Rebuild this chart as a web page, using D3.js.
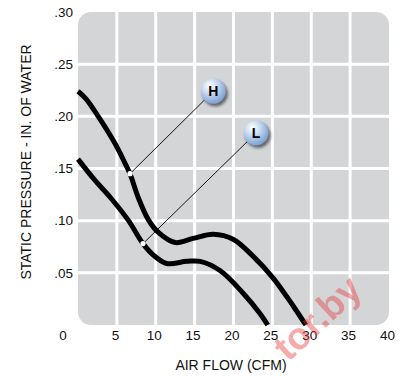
<!DOCTYPE html>
<html>
<head>
<meta charset="utf-8">
<script src="https://cdn.jsdelivr.net/npm/d3@7/dist/d3.min.js"></script>
<style>
  html, body { margin: 0; padding: 0; background: #ffffff; }
  svg { display: block; }
  text { font-family: "Liberation Sans", Arial, Helvetica, sans-serif; }
</style>
</head>
<body>
<svg id="chart" width="404" height="378"></svg>
<script>
// ---- data ----
const xTicks = [5, 10, 15, 20, 25, 30, 35, 40];
const yTicks = [0.05, 0.10, 0.15, 0.20, 0.25, 0.30];
const yTickLabels = [".05", ".10", ".15", ".20", ".25", ".30"];
const originLabel = "0";

const hFlow     = [0, 1.0, 2.6, 4.76, 6.05, 6.69, 7.76, 9.04, 10.3, 12.5, 14.8, 17.4, 20.0, 22.5, 25.1, 27.7, 29.3];
const hPressure = [0.224, 0.217, 0.200, 0.174, 0.155, 0.145, 0.122, 0.101, 0.089, 0.079, 0.083, 0.087, 0.082, 0.066, 0.045, 0.018, 0.0];
const lFlow     = [0, 2.14, 4.3, 6.5, 8.36, 9.7, 11.4, 14.0, 15.7, 18.3, 21.3, 23.4, 24.4];
const lPressure = [0.159, 0.139, 0.121, 0.100, 0.078, 0.067, 0.059, 0.061, 0.061, 0.052, 0.030, 0.011, 0.0];

const curveNames  = ["H", "L"];
const markerFlow     = [6.69, 8.36];
const markerPressure = [0.145, 0.078];
const bubbleFlow     = [17.4, 22.9];
const bubblePressure = [0.224, 0.184];

const xTitle = "AIR FLOW (CFM)";
const yTitle = "STATIC PRESSURE - IN. OF WATER";
const watermark = "tor.by";

// ---- layout ----
const svg = d3.select("#chart");
const L = 78, R = 389, T = 12, B = 325;
const x = d3.scaleLinear().domain([0, 40]).range([L, R]);
const y = d3.scaleLinear().domain([0, 0.30]).range([B, T]);

const defs = svg.append("defs");
const grad = defs.append("radialGradient").attr("id", "bub")
  .attr("cx", "38%").attr("cy", "32%").attr("r", "70%").attr("fx", "35%").attr("fy", "28%");
grad.append("stop").attr("offset", "0%").attr("stop-color", "#ffffff");
grad.append("stop").attr("offset", "35%").attr("stop-color", "#d3e2f4");
grad.append("stop").attr("offset", "80%").attr("stop-color", "#93b3de");
grad.append("stop").attr("offset", "100%").attr("stop-color", "#7d9fd0");
const blur = defs.append("filter").attr("id", "shadow")
  .attr("x", "-50%").attr("y", "-50%").attr("width", "200%").attr("height", "200%");
blur.append("feGaussianBlur").attr("stdDeviation", 1.6);

// plot background
svg.append("rect")
  .attr("x", L).attr("y", T).attr("width", R - L).attr("height", B - T)
  .attr("rx", 13).attr("ry", 13)
  .attr("fill", "#d4d5d7");

// grid
svg.append("g").selectAll("line").data(xTicks.filter(d => d < 40)).join("line")
  .attr("x1", d => x(d)).attr("x2", d => x(d))
  .attr("y1", T).attr("y2", B)
  .attr("stroke", "#ffffff").attr("stroke-width", 3);
svg.append("g").selectAll("line").data(yTicks.filter(d => d < 0.30)).join("line")
  .attr("y1", d => y(d)).attr("y2", d => y(d))
  .attr("x1", L).attr("x2", R)
  .attr("stroke", "#ffffff").attr("stroke-width", 3);

// axes (text only)
const xAxis = d3.axisBottom(x).tickValues(xTicks).tickSize(0).tickPadding(0).tickFormat(d3.format("d"));
const gx = svg.append("g").attr("transform", `translate(-2,${B + 5})`).call(xAxis);
gx.select(".domain").remove();
gx.selectAll("text").attr("font-size", 13.5).attr("fill", "#111").attr("dy", "0.71em")
  .attr("font-family", "Liberation Sans, Arial, sans-serif");

const yAxis = d3.axisLeft(y).tickValues(yTicks).tickSize(0).tickPadding(0)
  .tickFormat((d, i) => yTickLabels[i]);
const gy = svg.append("g").attr("transform", `translate(${L - 5},0)`).call(yAxis);
gy.select(".domain").remove();
gy.selectAll("text").attr("font-size", 13.5).attr("fill", "#111")
  .attr("font-family", "Liberation Sans, Arial, sans-serif");

svg.append("text").attr("x", 63).attr("y", 340).attr("text-anchor", "middle")
  .attr("font-size", 13.5).attr("fill", "#111").text(originLabel);

// titles
svg.append("text").attr("x", 231).attr("y", 370).attr("text-anchor", "middle")
  .attr("font-size", 14).attr("fill", "#111").text(xTitle);
svg.append("text").attr("transform", "translate(31,162) rotate(-90)")
  .attr("text-anchor", "middle").attr("font-size", 14).attr("fill", "#111").text(yTitle);

// curves
const line = d3.line().x(d => x(d[0])).y(d => y(d[1])).curve(d3.curveCatmullRom.alpha(0.5));
const hData = hFlow.map((f, i) => [f, hPressure[i]]);
const lData = lFlow.map((f, i) => [f, lPressure[i]]);
svg.append("g").selectAll("path").data([hData, lData]).join("path")
  .attr("d", line).attr("fill", "none").attr("stroke", "#000")
  .attr("stroke-width", 5).attr("stroke-linecap", "butt");

// leader lines, markers, bubbles
const callouts = curveNames.map((n, i) => ({
  name: n, mx: markerFlow[i], my: markerPressure[i], bx: bubbleFlow[i], by: bubblePressure[i]
}));
const cg = svg.append("g");
cg.selectAll("line").data(callouts).join("line")
  .attr("x1", d => x(d.mx)).attr("y1", d => y(d.my))
  .attr("x2", d => x(d.bx)).attr("y2", d => y(d.by))
  .attr("stroke", "#000").attr("stroke-width", 0.9);
cg.selectAll("circle.m").data(callouts).join("circle").attr("class", "m")
  .attr("cx", d => x(d.mx)).attr("cy", d => y(d.my)).attr("r", 2.6)
  .attr("fill", "#ffffff");
cg.selectAll("circle.s").data(callouts).join("circle").attr("class", "s")
  .attr("cx", d => x(d.bx) + 2).attr("cy", d => y(d.by) + 2.5).attr("r", 12.5)
  .attr("fill", "#333").attr("opacity", 0.7).attr("filter", "url(#shadow)");
cg.selectAll("circle.b").data(callouts).join("circle").attr("class", "b")
  .attr("cx", d => x(d.bx)).attr("cy", d => y(d.by)).attr("r", 12.5)
  .attr("fill", "url(#bub)");
cg.selectAll("text").data(callouts).join("text")
  .attr("x", d => x(d.bx)).attr("y", d => y(d.by) + 5)
  .attr("text-anchor", "middle").attr("font-size", 14).attr("font-weight", "bold")
  .attr("fill", "#000").text(d => d.name);

// watermark
svg.append("text").attr("transform", "translate(364,292) rotate(-43)")
  .attr("text-anchor", "end").attr("font-size", 38).attr("font-weight", "bold")
  .attr("fill", "#e8393c").attr("opacity", 0.42).text(watermark);
</script>
</body>
</html>
